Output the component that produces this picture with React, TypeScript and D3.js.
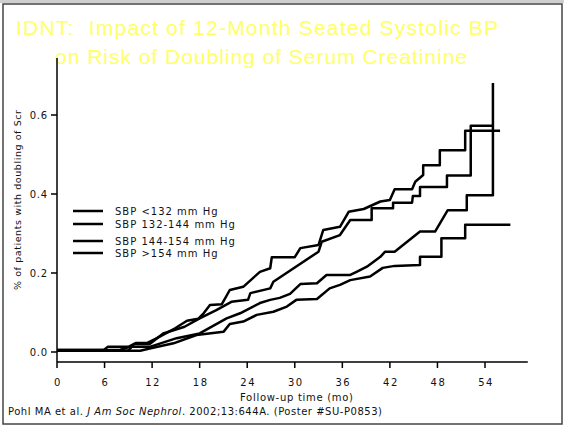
import * as d3 from "d3";

const width = 564;
const height = 430;

// Kaplan-Meier style curves (months, cumulative proportion)
const monthsA = [0, 5.9, 6.4, 9.0, 10.0, 11.4, 12.6, 14.9, 16.4, 17.8, 18.5, 19.3, 20.8, 21.8, 23.5, 25.6, 26.9, 27.1, 30.0, 30.7, 33.0, 33.6, 35.7, 36.8, 38.7, 40.8, 42.0, 42.6, 44.8, 45.2, 46.2, 46.2, 48.3, 48.3, 51.5, 51.5, 55.9];
const riskA = [0.005, 0.005, 0.013, 0.013, 0.023, 0.023, 0.035, 0.06, 0.079, 0.084, 0.098, 0.119, 0.121, 0.157, 0.165, 0.203, 0.212, 0.24, 0.24, 0.263, 0.271, 0.309, 0.317, 0.355, 0.362, 0.381, 0.385, 0.412, 0.412, 0.431, 0.448, 0.473, 0.473, 0.511, 0.511, 0.56, 0.56];

const monthsB = [0, 9.0, 9.7, 11.7, 13.4, 16.1, 18.0, 20.1, 22.0, 24.1, 24.4, 26.9, 27.3, 33.0, 33.4, 35.7, 37.0, 39.7, 39.7, 42.4, 42.4, 44.8, 44.9, 45.8, 45.8, 49.2, 49.2, 52.2, 52.2, 55.1];
const riskB = [0.003, 0.003, 0.02, 0.02, 0.047, 0.064, 0.085, 0.106, 0.127, 0.132, 0.149, 0.161, 0.178, 0.254, 0.279, 0.296, 0.334, 0.334, 0.364, 0.364, 0.378, 0.378, 0.395, 0.395, 0.418, 0.418, 0.447, 0.447, 0.573, 0.573];

const monthsC = [0, 7.9, 9.2, 11.7, 15.1, 18.0, 21.4, 23.1, 25.6, 26.9, 28.1, 29.4, 30.7, 32.8, 34.0, 37.0, 37.8, 39.1, 40.8, 41.4, 42.6, 45.8, 47.7, 49.3, 51.7, 51.7, 55.0, 55.0];
const riskC = [0.005, 0.005, 0.013, 0.013, 0.035, 0.047, 0.085, 0.098, 0.124, 0.132, 0.137, 0.147, 0.172, 0.174, 0.195, 0.195, 0.203, 0.216, 0.241, 0.254, 0.254, 0.305, 0.305, 0.359, 0.359, 0.397, 0.397, 0.681];

const monthsD = [0, 10.5, 11.7, 14.7, 17.6, 21.0, 21.8, 23.5, 25.2, 27.3, 29.0, 30.2, 32.8, 34.4, 35.7, 37.0, 39.5, 41.1, 42.6, 45.8, 45.8, 48.5, 48.5, 51.5, 51.5, 57.2];
const riskD = [0.003, 0.003, 0.009, 0.022, 0.043, 0.051, 0.071, 0.077, 0.094, 0.102, 0.115, 0.132, 0.134, 0.161, 0.17, 0.182, 0.191, 0.213, 0.218, 0.22, 0.241, 0.241, 0.288, 0.288, 0.322, 0.322];

const legendLabels = ["SBP <132 mm Hg", "SBP 132-144 mm Hg", "SBP 144-154 mm Hg", "SBP >154 mm Hg"];
const xTicks = [0, 6, 12, 18, 24, 30, 36, 42, 48, 54];
const yTicks = [0, 0.2, 0.4, 0.6];

const seriesList = [
  { months: monthsD, risk: riskD },
  { months: monthsC, risk: riskC },
  { months: monthsB, risk: riskB },
  { months: monthsA, risk: riskA },
];

const x = d3.scaleLinear().domain([0, 54]).range([57, 485]);
const y = d3.scaleLinear().domain([0, 0.6]).range([352, 115]);

const axisLeft = 57;
const axisBottom = 362;
const axisTop = 58;
const axisRight = x(59.4);

const font = "'DejaVu Sans', Verdana, sans-serif";

const App = () => {
  const line = d3
    .line<[number, number]>()
    .x((d) => x(d[0]))
    .y((d) => y(d[1]));

  const legendY = [211, 224, 241, 253];

  return (
    <svg
      width={width}
      height={height}
      style={{ position: "absolute", left: 0, top: 0, background: "white" }}
    >
      <rect x={0} y={0} width={width} height={3} fill="#cfcfcf" />
      <rect x={3} y={4} width={559} height={420} fill="none" stroke="#444" strokeWidth={1.5} />

      <g fill="#ffff66" fontFamily="'Liberation Sans', Arial, sans-serif" fontSize={21}>
        <text x={16} y={35} textLength={482} lengthAdjust="spacing">
          {"IDNT:\u00a0 Impact of 12-Month Seated Systolic BP"}
        </text>
        <text x={55} y={64} textLength={412} lengthAdjust="spacing">
          {"on Risk of Doubling of Serum Creatinine"}
        </text>
      </g>

      {/* axes */}
      <g stroke="black" strokeWidth={1.5} fill="none">
        <line x1={axisLeft} x2={axisLeft} y1={axisTop} y2={axisBottom} />
        <line x1={axisLeft} x2={axisRight} y1={axisBottom} y2={axisBottom} />
        {yTicks.map((t) => (
          <line key={t} x1={axisLeft - 6} x2={axisLeft} y1={y(t)} y2={y(t)} />
        ))}
        {xTicks.map((t) => (
          <line key={t} x1={x(t)} x2={x(t)} y1={axisBottom} y2={axisBottom + 6} />
        ))}
      </g>

      <g fontFamily={font} fontSize={10} fill="#111">
        {yTicks.map((t) => (
          <text key={t} x={48} y={y(t) + 4} textAnchor="end" letterSpacing={0.8}>
            {t.toFixed(1)}
          </text>
        ))}
        {xTicks.map((t) => (
          <text key={t} x={x(t) + 1} y={386} textAnchor="middle" letterSpacing={1.5}>
            {t}
          </text>
        ))}
        <text x={240} y={401} textLength={113} lengthAdjust="spacing">
          Follow-up time (mo)
        </text>
        <text
          transform={`translate(21, 200) rotate(-90)`}
          textAnchor="middle"
          fontSize={9.5}
          textLength={180}
          lengthAdjust="spacing"
        >
          % of patients with doubling of Scr
        </text>
        <text x={8} y={415} textLength={374} lengthAdjust="spacing">
          Pohl MA et al. <tspan fontStyle="italic">J Am Soc Nephrol</tspan>. 2002;13:644A. (Poster #SU-P0853)
        </text>
      </g>

      {/* legend */}
      <g fontFamily={font} fontSize={10} fill="#111">
        {legendLabels.map((label, i) => (
          <g key={label}>
            <line x1={73} x2={103} y1={legendY[i]} y2={legendY[i]} stroke="black" strokeWidth={2.5} />
            <text x={115} y={legendY[i] + 4} letterSpacing={1}>
              {label}
            </text>
          </g>
        ))}
      </g>

      {/* curves */}
      <g fill="none" stroke="black" strokeWidth={2.5} strokeLinejoin="round">
        {seriesList.map((s, i) => (
          <path
            key={i}
            d={line(s.months.map((m, j) => [m, s.risk[j]] as [number, number])) ?? ""}
          />
        ))}
      </g>
    </svg>
  );
};

export default App;
